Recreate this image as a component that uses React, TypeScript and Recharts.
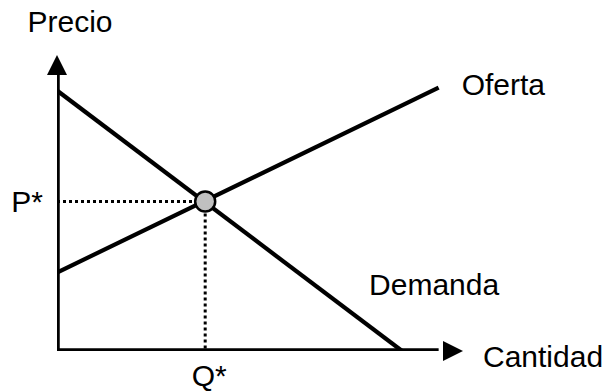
import React from 'react';
import { ComposedChart, Line, XAxis, YAxis, ReferenceLine, ReferenceDot } from 'recharts';

// supply / demand, values in chart units (0..100 on both axes)
const axisMax = 100;
const axisEnd = 94;
const demandQ = [0, 85];
const demandP = [88, 0];
const supplyQ = [0, 94];
const supplyP = [26.5, 89];
const eqQ = 36.5;
const eqP = 50.5;

const priceLabel = 'Precio';
const qtyLabel = 'Cantidad';
const supplyLabel = 'Oferta';
const demandLabel = 'Demanda';
const eqPriceLabel = 'P*';
const eqQtyLabel = 'Q*';

const toRows = (qs: number[], ps: number[]) => qs.map((q, i) => ({ q, p: ps[i] }));

const demandData = toRows(demandQ, demandP);
const supplyData = toRows(supplyQ, supplyP);
const axesData = toRows([0, 0, axisEnd], [axisEnd, 0, 0]);

const FONT = '"Liberation Sans", Arial, sans-serif';

const tags = [
    { text: priceLabel, q: 0, p: axisMax, dx: 13, dy: -23, anchor: 'middle' },
    { text: supplyLabel, q: supplyQ[1], p: supplyP[1], dx: 23, dy: 7.5, anchor: 'start' },
    { text: eqPriceLabel, q: 0, p: eqP, dx: -14, dy: 10.5, anchor: 'end' },
    { text: eqQtyLabel, q: eqQ, p: 0, dx: 4, dy: 35, anchor: 'middle' },
    { text: demandLabel, q: demandQ[1], p: demandP[1], dx: -33, dy: -56, anchor: 'start' },
    { text: qtyLabel, q: axisMax, p: 0, dx: 20, dy: 16, anchor: 'start' },
];

export default function App() {
    return (
        <div style={{ position: 'absolute', left: 0, top: 0, width: 611, height: 391, background: '#fff' }}>
            <ComposedChart width={611} height={391} margin={{ top: 55, left: 57, right: 148, bottom: 40 }}>
                <XAxis type="number" dataKey="q" domain={[0, axisMax]} allowDataOverflow hide />
                <YAxis type="number" dataKey="p" domain={[0, axisMax]} allowDataOverflow hide />

                {/* axes with arrow heads */}
                <Line data={axesData} dataKey="p" type="linear" stroke="#000" strokeWidth={5.5}
                    dot={false} activeDot={false} isAnimationActive={false} strokeLinejoin="miter" />
                <ReferenceDot x={0} y={axisMax} r={0} isFront
                    shape={(props: any) => (
                        <polygon points={`${props.cx},${props.cy} ${props.cx - 10},${props.cy + 20} ${props.cx + 10},${props.cy + 20}`} fill="#000" />
                    )} />
                <ReferenceDot x={axisMax} y={0} r={0} isFront
                    shape={(props: any) => (
                        <polygon points={`${props.cx},${props.cy} ${props.cx - 20},${props.cy - 10} ${props.cx - 20},${props.cy + 10}`} fill="#000" />
                    )} />

                {/* dotted guides to P* and Q* */}
                <ReferenceLine segment={[{ x: 0, y: eqP }, { x: eqQ, y: eqP }]} stroke="#000" strokeWidth={3} strokeDasharray="3 3" />
                <ReferenceLine segment={[{ x: eqQ, y: eqP }, { x: eqQ, y: 0 }]} stroke="#000" strokeWidth={3} strokeDasharray="3 3" />

                <Line data={demandData} dataKey="p" type="linear" stroke="#000" strokeWidth={4.2}
                    dot={false} activeDot={false} isAnimationActive={false} />
                <Line data={supplyData} dataKey="p" type="linear" stroke="#000" strokeWidth={4.2}
                    dot={false} activeDot={false} isAnimationActive={false} />

                <ReferenceDot x={eqQ} y={eqP} r={10} fill="#c0c0c0" stroke="#000" strokeWidth={2.5} isFront />

                {tags.map((t) => (
                    <ReferenceDot key={t.text} x={t.q} y={t.p} r={0} isFront
                        shape={(props: any) => (
                            <text x={props.cx + t.dx} y={props.cy + t.dy} textAnchor={t.anchor}
                                fontFamily={FONT} fontSize={30} fill="#000">{t.text}</text>
                        )} />
                ))}
            </ComposedChart>
        </div>
    );
}
